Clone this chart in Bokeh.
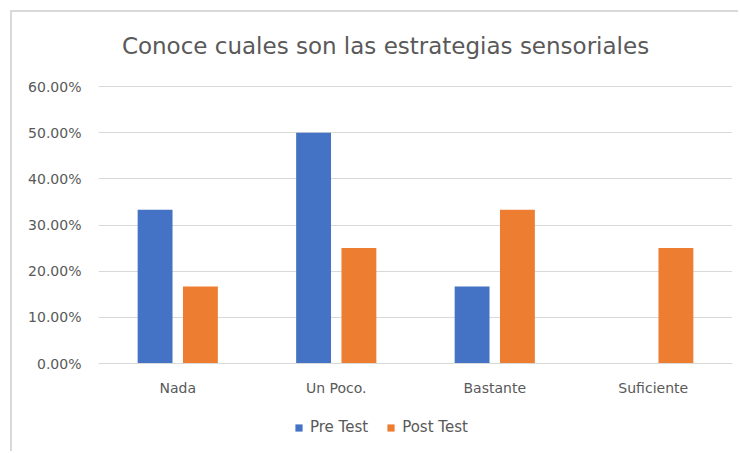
from bokeh.plotting import figure
from bokeh.models import (ColumnDataSource, FactorRange, Range1d, FixedTicker,
                          NumeralTickFormatter, Legend, LegendItem, Label)
from bokeh.transform import dodge
from bokeh.embed import file_html
from bokeh.resources import INLINE

categories = ["Nada", "Un Poco.", "Bastante", "Suficiente"]
pre_test = [0.3333, 0.50, 0.1667, 0.0]
post_test = [0.1667, 0.25, 0.3333, 0.25]
y_ticks = [0.0, 0.1, 0.2, 0.3, 0.4, 0.5, 0.6]
title_text = "Conoce cuales son las estrategias sensoriales"

BLUE = "#4472C4"
ORANGE = "#ED7D31"
GRID = "#D9D9D9"
TXT = "#595959"
FONT = "DejaVu Sans"

source = ColumnDataSource(dict(cat=categories, pre=pre_test, post=post_test))

# 0.6 sits 74px below the canvas top, 0 sits 90px above its bottom (277px per 0.6)
PX_PER_UNIT = 277 / 0.6
y_lo = -90 / PX_PER_UNIT
y_hi = 0.6 + 74 / PX_PER_UNIT

W, H = 728, 441
p = figure(width=W, height=H, output_backend="svg", toolbar_location=None,
           x_range=FactorRange(*categories, range_padding=0),
           y_range=Range1d(y_lo, y_hi),
           min_border_left=86, min_border_right=8, min_border_top=0,
           min_border_bottom=0)
p.styles = {"margin-left": "10px", "margin-top": "10px",
            "border-left": "2px solid #D9D9D9", "border-top": "2px solid #D9D9D9"}

r1 = p.vbar(x=dodge("cat", -0.143, range=p.x_range), top="pre", bottom=0,
            width=0.22, source=source, fill_color=BLUE, line_color=None)
r2 = p.vbar(x=dodge("cat", 0.143, range=p.x_range), top="post", bottom=0,
            width=0.22, source=source, fill_color=ORANGE, line_color=None)

p.outline_line_color = None
p.background_fill_color = "white"
p.border_fill_color = "white"

p.xgrid.grid_line_color = None
p.ygrid.ticker = FixedTicker(ticks=y_ticks)
p.ygrid.grid_line_color = GRID
p.ygrid.grid_line_width = 1

p.yaxis.ticker = FixedTicker(ticks=y_ticks)
p.yaxis.formatter = NumeralTickFormatter(format="0.00%")
p.yaxis.axis_line_color = None
p.yaxis.major_tick_line_color = None
p.yaxis.minor_tick_line_color = None
p.yaxis.major_label_standoff = 11
p.yaxis.major_label_text_font = FONT
p.yaxis.major_label_text_font_size = "14px"
p.yaxis.major_label_text_color = TXT

p.xaxis.fixed_location = 0
p.xaxis.axis_line_color = GRID
p.xaxis.major_tick_line_color = None
p.xaxis.minor_tick_line_color = None
p.xaxis.major_label_standoff = 10
p.xaxis.major_label_text_font = FONT
p.xaxis.major_label_text_font_size = "14px"
p.xaxis.major_label_text_color = TXT

legend = Legend(items=[LegendItem(label="Pre Test", renderers=[r1]),
                       LegendItem(label="Post Test", renderers=[r2])],
                orientation="horizontal", location=(196, 17),
                glyph_width=9, glyph_height=9, label_standoff=7, spacing=18,
                padding=4, margin=0, border_line_color=None,
                background_fill_alpha=0,
                label_text_font=FONT, label_text_font_size="15px",
                label_text_color=TXT)
p.add_layout(legend)

title = Label(x=287, y=408, x_units="screen", y_units="screen",
              text=title_text, text_align="center", text_baseline="middle",
              text_font=FONT, text_font_size="23px", text_color=TXT)
p.add_layout(title)

open("out.html", "w").write(file_html(p, INLINE))
